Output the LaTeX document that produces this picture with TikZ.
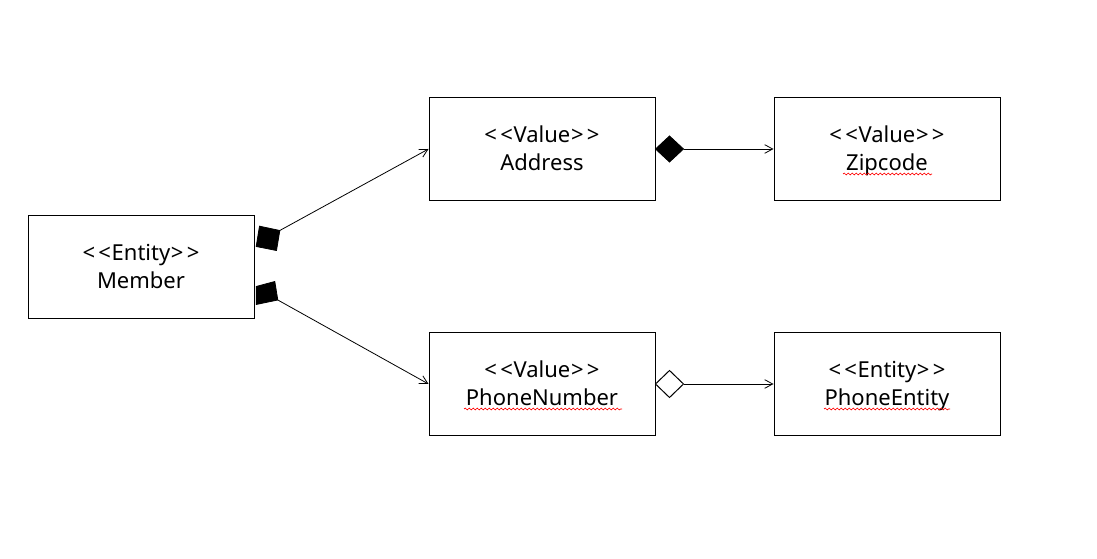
\documentclass[tikz,border=0pt]{standalone}
\usepackage{fontspec}
\setmainfont{Noto Sans}
\usetikzlibrary{arrows.meta,decorations.pathmorphing,calc}
\newcommand{\ltlt}{{<}\kern2.5pt{<}\kern0.5pt}
\newcommand{\gtgt}{\kern0.5pt{>}\kern2.5pt{>}}
\newcommand{\tstrut}{\rule{0pt}{17.7pt}}
\begin{document}
\begin{tikzpicture}[x=0.75pt,y=-0.75pt,
  cls/.style={draw,line width=0.75pt,minimum width=169.5pt,minimum height=77.25pt,
    align=center,inner sep=0pt,font=\fontsize{16.5}{21}\selectfont},
  conn/.style={line width=0.6pt,-{Straight Barb[length=6pt,width=6.5pt,line width=0.6pt]}},
  comp/.style={fill=black,draw=black,line width=0.6pt},
  aggr/.style={fill=white,draw=black,line width=0.75pt},
  spell/.style={red,line width=0.5pt,decorate,decoration={snake,amplitude=0.7pt,segment length=3pt}}]
\useasboundingbox (0,0) rectangle (1097,559);
\node[cls] (Member) at (141,267) {\tstrut\ltlt Entity\gtgt\\\strut Member};
\node[cls] (Address) at (542,149) {\tstrut\ltlt Value\gtgt\\\strut Address};
\node[cls] (Zipcode) at (887,149) {\tstrut\ltlt Value\gtgt\\\strut Zipcode};
\node[cls] (Phone) at (542,384) {\tstrut\ltlt Value\gtgt\\\strut PhoneNumber};
\node[cls] (PEntity) at (887,384) {\tstrut\ltlt Entity\gtgt\\\strut PhoneEntity};
% composition marks at Member
\draw[comp] ($(Member.east)+(5,-40.8)$) -- ($(Member.east)+(25.3,-36.5)$) coordinate (m1)
  -- ($(Member.east)+(22,-16.5)$) -- ($(Member.east)+(1.7,-20.5)$) -- cycle;
\draw[comp] ($(Member.east)+(1.7,19.5)$) -- ($(Member.east)+(20.3,14.5)$)
  -- ($(Member.east)+(23.3,33)$) coordinate (m2) -- ($(Member.east)+(1.7,37.5)$) -- cycle;
\draw[conn] (m1) -- (Address.west);
\draw[conn] (m2) -- (Phone.west);
% Address -> Zipcode
\draw[comp] (Address.east) -- ++(14,-13) -- ++(14,13) coordinate (d1) -- ++(-14,13) -- cycle;
\draw[conn] (d1) -- (Zipcode.west);
% PhoneNumber -> PhoneEntity
\draw[aggr] (Phone.east) -- ++(14,-13.5) -- ++(14,13.5) coordinate (d2) -- ++(-14,13.5) -- cycle;
\draw[conn] (d2) -- (PEntity.west);
% spell-check underlines
\draw[spell] ($(Zipcode.center)+(-44,25)$) -- ($(Zipcode.center)+(45,25)$);
\draw[spell] ($(Phone.center)+(-78,25)$) -- ($(Phone.center)+(80,25)$);
\draw[spell] ($(PEntity.center)+(-63,25)$) -- ($(PEntity.center)+(63,25)$);
\end{tikzpicture}
\end{document}
